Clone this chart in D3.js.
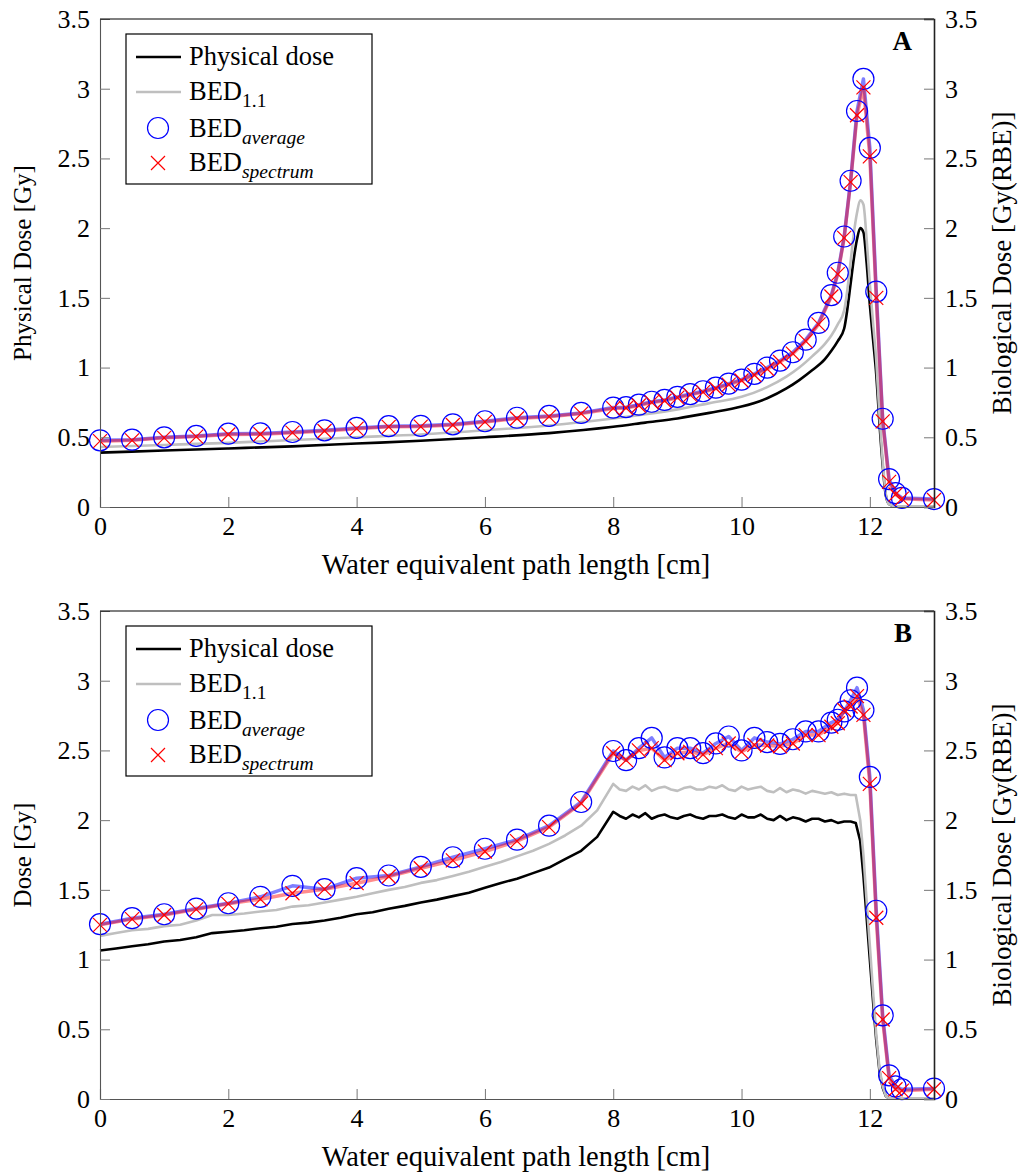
<!DOCTYPE html>
<html>
<head>
<meta charset="utf-8">
<script src="https://cdn.jsdelivr.net/npm/d3@7"></script>
<style>
body { margin: 0; background: #fff; }
</style>
</head>
<body>
<svg id="chart" width="1029" height="1172"></svg>
<script>
// ---- data ----
const xTicks = [0, 2, 4, 6, 8, 10, 12]
const yTicks = [0, 0.5, 1, 1.5, 2, 2.5, 3, 3.5]

// positions of the BED markers (same in both panels)
const markX = [0, 0.5, 1, 1.5, 2, 2.5, 3, 3.5, 4, 4.5, 5, 5.5, 6, 6.5, 7, 7.5, 8,
  8.2, 8.4, 8.6, 8.8, 9, 9.2, 9.4, 9.6, 9.8, 10, 10.2, 10.4, 10.6, 10.8, 11, 11.2, 11.4,
  11.5, 11.6, 11.7, 11.8, 11.9, 12, 12.1, 12.2, 12.3, 12.4, 12.5, 13]

// panel A
const depthA = [0, 1, 2, 3, 4, 5, 6, 7, 8, 8.5, 9, 9.5, 10, 10.4, 10.7, 10.9, 11.1, 11.3, 11.4, 11.5,
  11.6, 11.65, 11.7, 11.75, 11.8, 11.85, 11.9, 11.95, 12, 12.05, 12.1, 12.15, 12.2, 12.25, 12.3, 12.4, 13]
const physA = [0.39, 0.405, 0.42, 0.435, 0.455, 0.475, 0.5, 0.53, 0.575, 0.605, 0.635, 0.675, 0.72, 0.78, 0.85, 0.91, 0.98, 1.06, 1.12, 1.19,
  1.28, 1.42, 1.6, 1.78, 1.92, 2.0, 1.97, 1.75, 1.45, 1.2, 0.95, 0.6, 0.3, 0.08, 0.02, 0.005, 0.005]
const bed11A = [0.43, 0.445, 0.46, 0.48, 0.5, 0.52, 0.55, 0.585, 0.635, 0.665, 0.7, 0.745, 0.79, 0.86, 0.935, 1.0, 1.08, 1.17, 1.23, 1.31,
  1.41, 1.56, 1.76, 1.96, 2.11, 2.2, 2.17, 1.92, 1.6, 1.32, 1.05, 0.66, 0.33, 0.09, 0.02, 0.005, 0.005]
const avgA = [0.478, 0.483, 0.5, 0.51, 0.526, 0.528, 0.538, 0.55, 0.567, 0.58, 0.582, 0.593, 0.615, 0.64, 0.653, 0.675, 0.713,
  0.716, 0.734, 0.755, 0.768, 0.79, 0.81, 0.83, 0.856, 0.885, 0.914, 0.955, 1.0, 1.05, 1.11, 1.2, 1.32, 1.52,
  1.68, 1.94, 2.34, 2.84, 3.07, 2.575, 1.545, 0.633, 0.2, 0.1, 0.065, 0.057]
const specA = [0.472, 0.478, 0.496, 0.505, 0.52, 0.522, 0.533, 0.545, 0.562, 0.575, 0.577, 0.588, 0.61, 0.635, 0.648, 0.67, 0.707,
  0.71, 0.728, 0.75, 0.762, 0.784, 0.804, 0.824, 0.85, 0.878, 0.907, 0.947, 0.99, 1.04, 1.1, 1.19, 1.31, 1.51,
  1.67, 1.93, 2.33, 2.81, 3.01, 2.515, 1.5, 0.614, 0.18, 0.09, 0.06, 0.05]

// panel B
const depthB = [0, 0.25, 0.5, 0.75, 1, 1.25, 1.5, 1.75, 2, 2.25, 2.5, 2.75, 3, 3.25, 3.5, 3.75, 4, 4.25, 4.5, 4.75,
  5, 5.25, 5.5, 5.75, 6, 6.25, 6.5, 6.75, 7, 7.25, 7.5, 7.75,
  8, 8.1, 8.2, 8.3, 8.4, 8.5, 8.6, 8.7, 8.8, 8.9, 9, 9.1, 9.2, 9.3, 9.4, 9.5, 9.6, 9.7, 9.8, 9.9,
  10, 10.1, 10.2, 10.3, 10.4, 10.5, 10.6, 10.7, 10.8, 10.9, 11, 11.1, 11.2, 11.3, 11.4, 11.5, 11.6, 11.7, 11.78,
  11.85, 11.9, 11.95, 12, 12.05, 12.1, 12.15, 12.2, 12.25, 12.3, 13]
const physB = [1.065, 1.08, 1.095, 1.11, 1.13, 1.14, 1.16, 1.19, 1.2, 1.21, 1.225, 1.235, 1.255, 1.265, 1.28, 1.3, 1.325, 1.34, 1.365, 1.385,
  1.41, 1.43, 1.455, 1.48, 1.515, 1.55, 1.58, 1.62, 1.66, 1.72, 1.78, 1.88,
  2.06, 2.03, 2.01, 2.04, 2.02, 2.05, 2.01, 2.03, 2.04, 2.02, 2.01, 2.03, 2.04, 2.02, 2.01, 2.03, 2.03, 2.04, 2.02, 2.01,
  2.04, 2.02, 2.02, 2.04, 2.01, 2.0, 2.03, 2.0, 2.02, 2.01, 1.99, 2.01, 2.01, 1.99, 2.0, 1.98, 1.99, 1.99, 1.98,
  1.85, 1.6, 1.3, 1.0, 0.7, 0.42, 0.2, 0.08, 0.02, 0.005, 0.005]
const bed11B = [1.17, 1.19, 1.21, 1.22, 1.24, 1.25, 1.28, 1.32, 1.32, 1.33, 1.345, 1.355, 1.38, 1.39, 1.41, 1.43, 1.45, 1.475, 1.5, 1.52,
  1.55, 1.57, 1.6, 1.63, 1.665, 1.7, 1.74, 1.78, 1.83, 1.89, 1.96, 2.07,
  2.26, 2.22, 2.21, 2.24, 2.22, 2.25, 2.21, 2.23, 2.24, 2.22, 2.21, 2.23, 2.24, 2.22, 2.22, 2.24, 2.23, 2.25, 2.22, 2.21,
  2.24, 2.22, 2.23, 2.24, 2.21, 2.2, 2.23, 2.2, 2.22, 2.21, 2.19, 2.21, 2.2, 2.19, 2.2, 2.18, 2.19, 2.18, 2.18,
  2.0, 1.75, 1.42, 1.1, 0.77, 0.46, 0.22, 0.09, 0.02, 0.005, 0.005]
const avgB = [1.254, 1.297, 1.325, 1.366, 1.404, 1.45, 1.529, 1.505, 1.584, 1.603, 1.665, 1.734, 1.795, 1.86, 1.96, 2.13, 2.496,
  2.43, 2.516, 2.59, 2.45, 2.516, 2.516, 2.48, 2.55, 2.6, 2.5, 2.59, 2.56, 2.547, 2.58, 2.636, 2.636, 2.7,
  2.72, 2.78, 2.86, 2.95, 2.79, 2.31, 1.35, 0.6, 0.17, 0.09, 0.07, 0.075]
const specB = [1.249, 1.29, 1.32, 1.36, 1.4, 1.433, 1.476, 1.505, 1.548, 1.596, 1.655, 1.711, 1.775, 1.85, 1.95, 2.12, 2.48,
  2.43, 2.5, 2.516, 2.43, 2.48, 2.49, 2.47, 2.516, 2.55, 2.49, 2.54, 2.535, 2.53, 2.55, 2.61, 2.61, 2.67,
  2.695, 2.79, 2.815, 2.89, 2.755, 2.26, 1.3, 0.57, 0.15, 0.07, 0.06, 0.07]

const legendItems = ["Physical dose", "BED", "BED", "BED"]
const legendSubs = ["", "1.1", "average", "spectrum"]

const FONT = "'Liberation Serif', 'DejaVu Serif', serif"

// ---- layout ----
const svg = d3.select("#chart").attr("font-family", FONT)
const left = 100, right = 934

const x = d3.scaleLinear().domain([0, 13]).range([left, right])

const panels = [
  { top: 19, bottom: 507, tag: "A", yTitle: "Physical Dose [Gy]",
    depth: depthA, phys: physA, bed11: bed11A, avg: avgA, spec: specA, curve: d3.curveMonotoneX },
  { top: 611, bottom: 1099, tag: "B", yTitle: "Dose [Gy]",
    depth: depthB, phys: physB, bed11: bed11B, avg: avgB, spec: specB, curve: d3.curveLinear }
]

const crossPath = "M-7,-7L7,7M-7,7L7,-7"

function styleAxis(sel) {
  sel.attr("font-family", FONT).attr("font-size", 26)
  sel.select(".domain").attr("stroke", "#555").attr("stroke-width", 1.1)
  sel.selectAll(".tick line").attr("stroke", "#777").attr("stroke-width", 1)
}

function drawPanel(p) {
  const y = d3.scaleLinear().domain([0, 3.5]).range([p.bottom, p.top])
  const g = svg.append("g")

  // curves
  const lineOf = (xs, curve) => d3.line().curve(curve || d3.curveLinear).x((d, i) => x(xs[i])).y(d => y(d))

  g.append("path").datum(p.phys).attr("d", lineOf(p.depth, p.curve))
    .attr("fill", "none").attr("stroke", "#000").attr("stroke-width", 2.6)
    .attr("stroke-linejoin", "round")
  g.append("path").datum(p.bed11).attr("d", lineOf(p.depth, p.curve))
    .attr("fill", "none").attr("stroke", "#bfbfbf").attr("stroke-width", 2.6)
    .attr("stroke-linejoin", "round")
  g.append("path").datum(p.avg).attr("d", lineOf(markX))
    .attr("fill", "none").attr("stroke", "blue").attr("stroke-opacity", 0.5)
    .attr("stroke-width", 3.5).attr("stroke-linejoin", "round")
  g.append("path").datum(p.spec).attr("d", lineOf(markX))
    .attr("fill", "none").attr("stroke", "red").attr("stroke-opacity", 0.45)
    .attr("stroke-width", 3.5).attr("stroke-linejoin", "round")

  g.selectAll(".avg").data(p.avg).enter().append("circle")
    .attr("cx", (d, i) => x(markX[i])).attr("cy", d => y(d)).attr("r", 10.5)
    .attr("fill", "none").attr("stroke", "blue").attr("stroke-width", 1.2)
  g.selectAll(".spec").data(p.spec).enter().append("path")
    .attr("transform", (d, i) => `translate(${x(markX[i])},${y(d)})`)
    .attr("d", crossPath).attr("stroke", "red").attr("stroke-width", 1.2)

  // axes (ticks point inward)
  const xAxis = d3.axisBottom(x).tickValues(xTicks).tickSize(-10).tickPadding(10).tickFormat(d => d)
  g.append("g").attr("transform", `translate(0,${p.bottom})`).call(xAxis).call(styleAxis)

  const yLeft = d3.axisLeft(y).tickValues(yTicks).tickSize(-10).tickPadding(10).tickFormat(d => d)
  g.append("g").attr("transform", `translate(${left},0)`).call(yLeft).call(styleAxis)

  const yRight = d3.axisRight(y).tickValues(yTicks).tickSize(-10).tickPadding(11).tickFormat(d => d)
  g.append("g").attr("transform", `translate(${right},0)`).call(yRight).call(styleAxis)
    .select(".domain").attr("stroke", "#222").attr("stroke-width", 1.6)

  g.append("line").attr("x1", left).attr("x2", right).attr("y1", p.top).attr("y2", p.top)
    .attr("stroke", "#000").attr("stroke-width", 1.2)

  // titles
  g.append("text").attr("x", (left + right) / 2 - 1).attr("y", p.bottom + 67)
    .attr("text-anchor", "middle").attr("font-size", 28.5)
    .text("Water equivalent path length [cm]")
  const mid = (p.top + p.bottom) / 2
  g.append("text").attr("transform", `translate(31,${mid}) rotate(-90)`)
    .attr("text-anchor", "middle").attr("font-size", 25).text(p.yTitle)
  g.append("text").attr("transform", `translate(1011,${mid}) rotate(-90)`)
    .attr("text-anchor", "middle").attr("font-size", 27).text("Biological Dose [Gy(RBE)]")

  g.append("text").attr("x", 912).attr("y", p.top + 31).attr("text-anchor", "end")
    .attr("font-size", 27).attr("font-weight", "bold").text(p.tag)

  // legend
  const lg = g.append("g").attr("transform", `translate(126,${p.top + 15})`)
  lg.append("rect").attr("width", 246).attr("height", 150)
    .attr("fill", "#fff").attr("stroke", "#000").attr("stroke-width", 1.2)
  const rowY = [23, 58, 94, 129]
  const baseY = [31, 66, 103, 137]
  lg.append("line").attr("x1", 10).attr("x2", 55).attr("y1", rowY[0]).attr("y2", rowY[0])
    .attr("stroke", "#000").attr("stroke-width", 2.6)
  lg.append("line").attr("x1", 10).attr("x2", 55).attr("y1", rowY[1]).attr("y2", rowY[1])
    .attr("stroke", "#bfbfbf").attr("stroke-width", 2.6)
  lg.append("circle").attr("cx", 32).attr("cy", rowY[2]).attr("r", 10.5)
    .attr("fill", "none").attr("stroke", "blue").attr("stroke-width", 1.2)
  lg.append("path").attr("transform", `translate(32,${rowY[3]})`).attr("d", crossPath)
    .attr("stroke", "red").attr("stroke-width", 1.2)

  legendItems.forEach((name, i) => {
    const t = lg.append("text").attr("x", 63).attr("y", baseY[i]).attr("font-size", 26.5).text(name)
    if (legendSubs[i]) {
      t.append("tspan").attr("dy", 7).attr("font-size", 19.5)
        .attr("font-style", i > 1 ? "italic" : "normal").text(legendSubs[i])
    }
  })
}

panels.forEach(drawPanel)
</script>
</body>
</html>
